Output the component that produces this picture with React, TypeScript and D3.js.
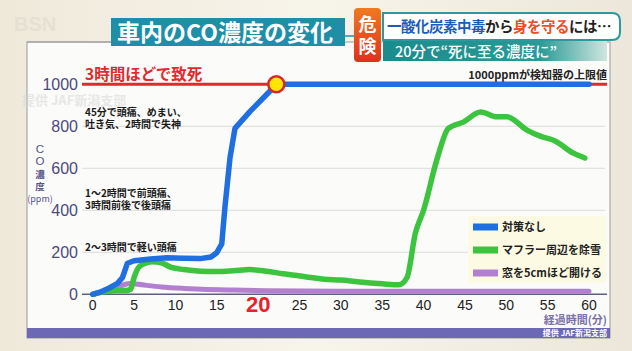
import * as d3 from "d3";

// series values: [minutes, ppm]
const noMeasure: [number, number][] = [
  [0, 0], [1, 12], [2, 30], [3, 52], [3.6, 80], [4.2, 148], [5, 160], [7, 168], [9, 174],
  [11, 172], [13, 170], [14.3, 178], [15, 198], [15.6, 240], [16, 420], [16.6, 650],
  [17.2, 790], [19, 870], [21, 950], [22.2, 1000], [60, 1000],
];
const clearMuffler: [number, number][] = [
  [0, 0], [1, 10], [2, 15], [3, 18], [4, 18], [4.6, 25], [5, 80], [5.5, 125], [6.2, 145],
  [7.2, 155], [8.3, 150], [9.5, 128], [11, 118], [13, 110], [15, 108], [17, 112], [19, 118],
  [21, 110], [23, 98], [25.5, 85], [28, 72], [30, 68], [32, 60], [35, 50], [37, 45], [38, 80],
  [39, 290], [40, 400], [41.6, 640], [43, 790], [44.8, 820], [46.9, 868], [48.9, 845],
  [50.1, 845], [52.5, 782], [54.1, 753], [55.9, 730], [58.1, 672], [59.5, 649],
];
const openWindow: [number, number][] = [
  [0, 0], [1, 10], [2, 22], [3, 35], [4.5, 52], [6, 45], [8.3, 35], [11, 28], [13.2, 24],
  [17, 20], [21, 17], [30, 15], [40, 15], [50, 15], [60, 15],
];

const seriesNames = ["対策なし", "マフラー周辺を除雪", "窓を5cmほど開ける"];
const seriesColors = ["#1f6fe0", "#3cc43e", "#b37fd0"];
const xTicks = [0, 5, 10, 15, 20, 25, 30, 35, 40, 45, 50, 55, 60];
const yTicks = [0, 200, 400, 600, 800, 1000];
const deathPoint: [number, number] = [22.2, 1000];

const notes = [
  { ppm: 850, lines: ["45分で頭痛、めまい、", "吐き気、2時間で失神"] },
  { ppm: 465, lines: ["1〜2時間で前頭痛、", "3時間前後で後頭痛"] },
  { ppm: 207, lines: ["2〜3時間で軽い頭痛"] },
];

const JP = "'Noto Sans CJK JP', 'Noto Sans', sans-serif";
const NUM = "'Liberation Sans', Arial, sans-serif";

export default function App() {
  const x = d3.scaleLinear().domain([0, 60]).range([92.7, 589]);
  const y = d3.scaleLinear().domain([0, 1000]).range([294.3, 84.3]);
  const smooth = d3
    .line<[number, number]>()
    .x((d) => x(d[0]))
    .y((d) => y(d[1]))
    .curve(d3.curveMonotoneX);
  const straight = d3
    .line<[number, number]>()
    .x((d) => x(d[0]))
    .y((d) => y(d[1]));
  const allSeries = [noMeasure, clearMuffler, openWindow];

  return (
    <svg
      width={632}
      height={351}
      style={{ position: "fixed", left: 0, top: 0 }}
      fontFamily={JP}
    >
      <defs>
        <linearGradient id="bg" x1="0" x2="1" y1="0" y2="0">
          <stop offset="0" stopColor="#efe9da" />
          <stop offset="0.5" stopColor="#f7f4ea" />
          <stop offset="1" stopColor="#ece7da" />
        </linearGradient>
        <linearGradient id="teal" x1="0" x2="1">
          <stop offset="0" stopColor="#1a8c8c" />
          <stop offset="0.7" stopColor="#2a9a96" />
          <stop offset="1" stopColor="#cfe6e0" />
        </linearGradient>
        <linearGradient id="danger" x1="0" x2="0" y1="0" y2="1">
          <stop offset="0" stopColor="#f07a20" />
          <stop offset="1" stopColor="#e0301e" />
        </linearGradient>
      </defs>

      {/* background */}
      <rect x={0} y={0} width={632} height={351} fill="url(#bg)" />
      <text x={14} y={31} fontSize={20} fontWeight={700} fill="#e6e0d2" fontFamily={NUM}>BSN</text>

      {/* panel */}
      <rect x={27} y={42} width={583} height={296} fill="#fbfbf9" stroke="#9a9a9a" strokeWidth={1} />
      <rect x={27} y={328} width={583} height={10} fill="#6d68b6" />
      <text x={607} y={336} textAnchor="end" fontSize={8} fontWeight={700} fill="#ffffff">提供 JAF新潟支部</text>

      {/* watermark */}
      <text x={22} y={105} fontSize={13} fontWeight={700} fill="#d8d8d8" opacity={0.55}>提供 JAF新潟支部</text>

      {/* gridlines */}
      {yTicks.slice(1, -1).map((t) => (
        <line key={t} x1={82} x2={605} y1={y(t)} y2={y(t)} stroke="#dcdcdc" strokeWidth={1} />
      ))}
      <line x1={82} x2={607} y1={y(1000)} y2={y(1000)} stroke="#e02a2e" strokeWidth={3} />
      <line x1={82} x2={607} y1={y(0)} y2={y(0)} stroke="#5f5f80" strokeWidth={1.5} />

      {/* y tick labels */}
      {yTicks.map((t) => (
        <text key={t} x={78} y={y(t) + 5.5} textAnchor="end" fontSize={16} fill="#4b4a7c" fontFamily={NUM}>
          {t}
        </text>
      ))}
      {/* y axis title */}
      <g fill="#55558c" textAnchor="middle">
        <text x={40} y={153} fontSize={11.5} fontFamily={NUM}>C</text>
        <text x={40} y={165} fontSize={11.5} fontFamily={NUM}>O</text>
        <text x={40} y={178} fontSize={9.5} fontWeight={700}>濃</text>
        <text x={40} y={190} fontSize={9.5} fontWeight={700}>度</text>
        <text x={40} y={202} fontSize={9}>(ppm)</text>
      </g>

      {/* x tick labels */}
      {xTicks.map((t) =>
        t === 20 ? (
          <text key={t} x={x(t)} y={312} textAnchor="middle" fontSize={22} fontWeight={700} fill="#e8222a" fontFamily={NUM}>
            {t}
          </text>
        ) : (
          <text key={t} x={x(t)} y={310} textAnchor="middle" fontSize={14} fill="#222" fontFamily={NUM}>
            {t}
          </text>
        )
      )}
      <text x={607} y={324} textAnchor="end" fontSize={11} fontWeight={700} fill="#7a72a8">経過時間(分)</text>

      {/* annotations */}
      <text x={85} y={80} fontSize={15.5} fontWeight={700} fill="#e02a2e">3時間ほどで致死</text>
      <text x={607} y={79} textAnchor="end" fontSize={11} fontWeight={700} fill="#222">1000ppmが検知器の上限値</text>
      {notes.map((n) =>
        n.lines.map((s, i) => (
          <text key={s} x={85} y={y(n.ppm) + i * 12} fontSize={10} fontWeight={600} fill="#1a1a1a">
            {s}
          </text>
        ))
      )}

      {/* series lines */}
      {[2, 1, 0].map((i) => (
        <path
          key={i}
          d={(i === 0 ? straight : smooth)(allSeries[i]) ?? ""}
          fill="none"
          stroke={seriesColors[i]}
          strokeWidth={i === 2 ? 5 : 5.5}
          strokeLinejoin="round"
          strokeLinecap="round"
        />
      ))}
      <circle cx={x(deathPoint[0])} cy={y(deathPoint[1])} r={8} fill="#ffe600" stroke="#d8262a" strokeWidth={2.5} />

      {/* legend */}
      <rect x={468} y={216} width={138} height={67} fill="#fcfae2" />
      {seriesNames.map((name, i) => (
        <g key={name} transform={`translate(473,${227 + i * 23})`}>
          <rect x={0} y={-3.5} width={25} height={7} fill={seriesColors[i]} />
          <text x={29} y={4} fontSize={11} fontWeight={700} fill="#222">{name}</text>
        </g>
      ))}

      {/* header */}
      <line x1={27} x2={111} y1={42} y2={42} stroke="#9a9a9a" />
      <rect x={111} y={18} width={234} height={28} fill="#1f8fa8" />
      <text x={117} y={41} fontSize={23} fontWeight={700} fill="#ffffff">車内のCO濃度の変化</text>
      <line x1={345} x2={354} y1={36} y2={36} stroke="#1f8fa8" strokeWidth={1.5} />
      <path d="M383,13 H612 Q620,13 620,21 V32 Q620,40 612,40 H383 Z" fill="#ffffff" stroke="#2a9aa0" strokeWidth={2} />
      <rect x={383} y={41} width={224} height={20} fill="url(#teal)" />
      <rect x={354} y={8} width={27} height={54} rx={4} fill="url(#danger)" />
      <text x={367.5} y={31} textAnchor="middle" fontSize={18} fontWeight={700} fill="#ffffff">危</text>
      <text x={367.5} y={53} textAnchor="middle" fontSize={18} fontWeight={700} fill="#ffffff">険</text>
      <text x={387} y={32} fontSize={14.5} fontWeight={700} letterSpacing={-0.5}>
        <tspan fill="#1d5cb8">一酸化炭素中毒</tspan>
        <tspan fill="#222">から</tspan>
        <tspan fill="#e8502a">身を守る</tspan>
        <tspan fill="#222">には…</tspan>
      </text>
      <text x={395} y={57} fontSize={14.5} fontWeight={500} fill="#ffffff">20分で“死に至る濃度に”</text>
    </svg>
  );
}
